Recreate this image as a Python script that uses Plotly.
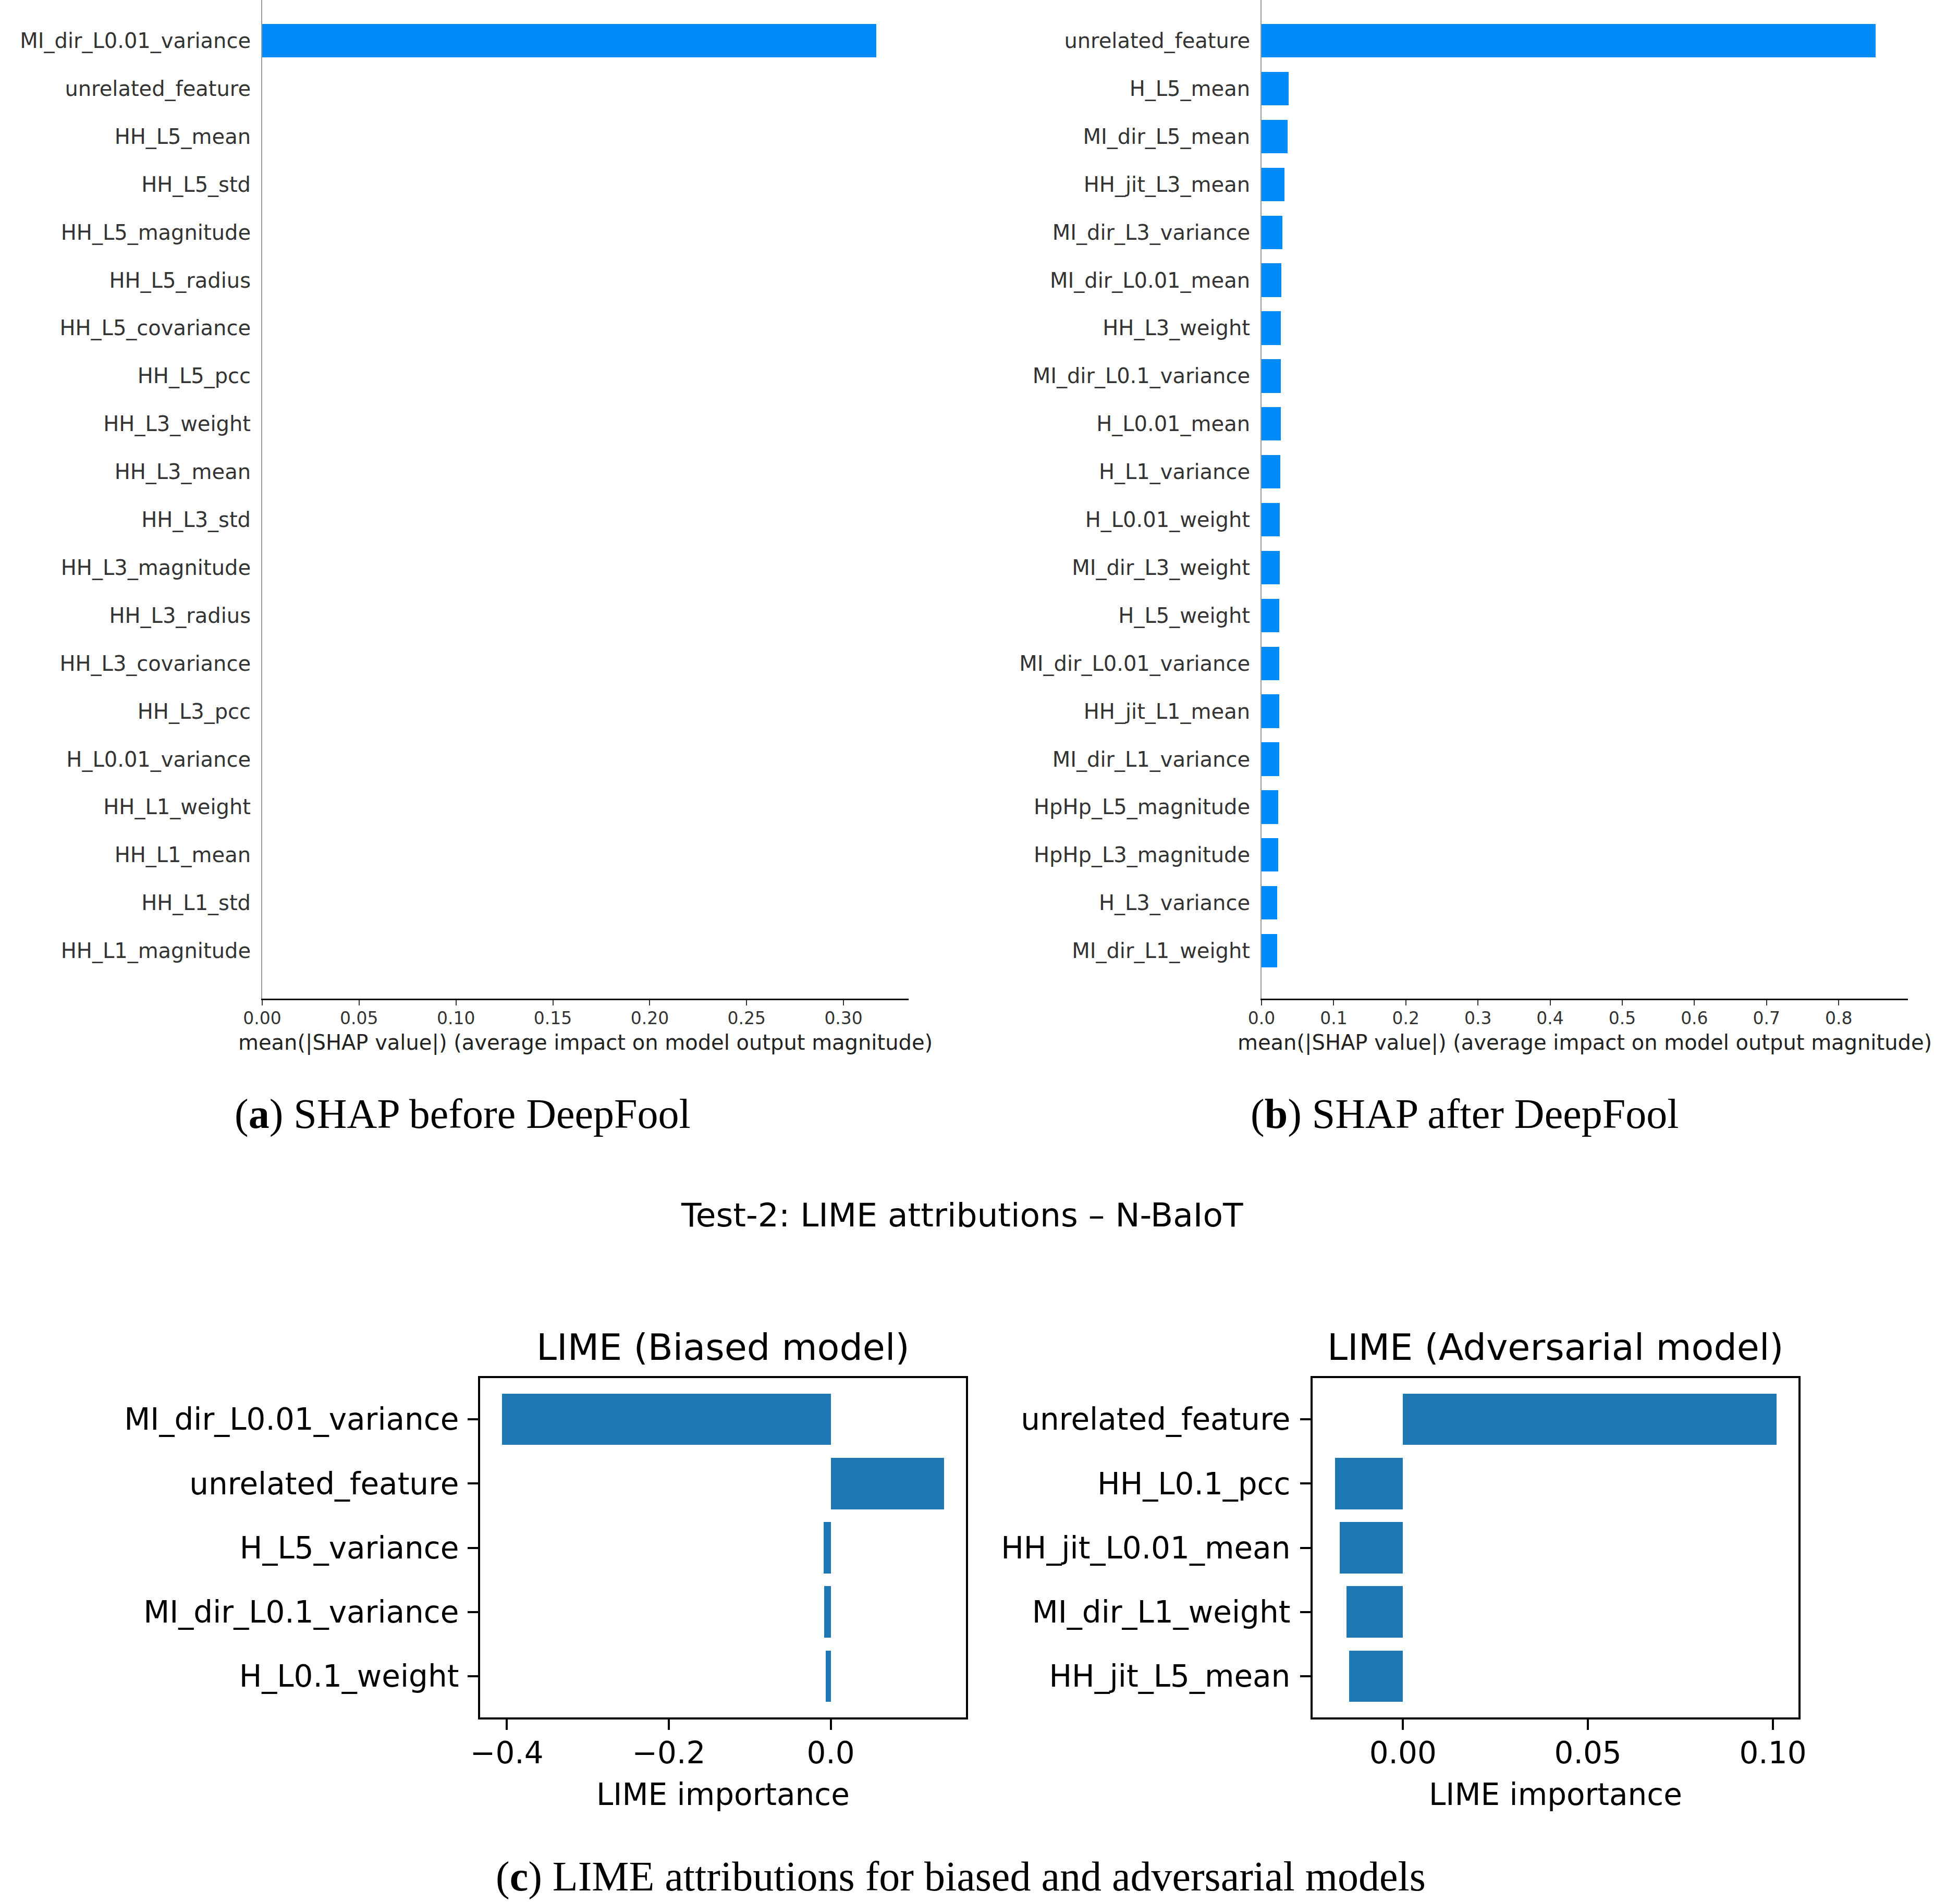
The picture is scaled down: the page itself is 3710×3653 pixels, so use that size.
import plotly.graph_objects as go

W, H = 3710, 3653

# ---------------- data ----------------
shap_before_features = [
    "MI_dir_L0.01_variance", "unrelated_feature", "HH_L5_mean", "HH_L5_std",
    "HH_L5_magnitude", "HH_L5_radius", "HH_L5_covariance", "HH_L5_pcc",
    "HH_L3_weight", "HH_L3_mean", "HH_L3_std", "HH_L3_magnitude",
    "HH_L3_radius", "HH_L3_covariance", "HH_L3_pcc", "H_L0.01_variance",
    "HH_L1_weight", "HH_L1_mean", "HH_L1_std", "HH_L1_magnitude",
]
shap_before_values = [
    0.317, 0.0, 0.0, 0.0, 0.0, 0.0, 0.0, 0.0, 0.0, 0.0,
    0.0, 0.0, 0.0, 0.0, 0.0, 0.0, 0.0, 0.0, 0.0, 0.0,
]

shap_after_features = [
    "unrelated_feature", "H_L5_mean", "MI_dir_L5_mean", "HH_jit_L3_mean",
    "MI_dir_L3_variance", "MI_dir_L0.01_mean", "HH_L3_weight", "MI_dir_L0.1_variance",
    "H_L0.01_mean", "H_L1_variance", "H_L0.01_weight", "MI_dir_L3_weight",
    "H_L5_weight", "MI_dir_L0.01_variance", "HH_jit_L1_mean", "MI_dir_L1_variance",
    "HpHp_L5_magnitude", "HpHp_L3_magnitude", "H_L3_variance", "MI_dir_L1_weight",
]
shap_after_values = [
    0.851, 0.0373, 0.0360, 0.0321, 0.0291, 0.0274, 0.0268, 0.0266, 0.0265, 0.0263,
    0.0252, 0.0250, 0.0249, 0.0248, 0.0247, 0.0246, 0.0234, 0.0232, 0.0219, 0.0217,
]

lime_biased_features = [
    "MI_dir_L0.01_variance", "unrelated_feature", "H_L5_variance",
    "MI_dir_L0.1_variance", "H_L0.1_weight",
]
lime_biased_values = [-0.406, 0.140, -0.009, -0.008, -0.0065]

lime_adv_features = [
    "unrelated_feature", "HH_L0.1_pcc", "HH_jit_L0.01_mean",
    "MI_dir_L1_weight", "HH_jit_L5_mean",
]
lime_adv_values = [0.101, -0.0184, -0.0171, -0.0153, -0.0145]

shap_ticks_before = [0.0, 0.05, 0.10, 0.15, 0.20, 0.25, 0.30]
shap_ticks_after = [0.0, 0.1, 0.2, 0.3, 0.4, 0.5, 0.6, 0.7, 0.8]
lime_ticks_biased = [-0.4, -0.2, 0.0]
lime_ticks_adv = [0.0, 0.05, 0.10]

SHAP_XLABEL = "mean(|SHAP value|) (average impact on model output magnitude)"

# ---------------- helpers ----------------
def fx(px):
    return px / W

def fy(py):
    return 1 - py / H

SANS = "DejaVu Sans"
SERIF = "Liberation Serif"

fig = go.Figure()

fig.add_trace(go.Bar(x=shap_before_values, y=shap_before_features, orientation="h",
                     marker=dict(color="#008bfb", line=dict(width=0)), width=0.7,
                     xaxis="x", yaxis="y", showlegend=False))
fig.add_trace(go.Bar(x=shap_after_values, y=shap_after_features, orientation="h",
                     marker=dict(color="#008bfb", line=dict(width=0)), width=0.7,
                     xaxis="x2", yaxis="y2", showlegend=False))
fig.add_trace(go.Bar(x=lime_biased_values, y=lime_biased_features, orientation="h",
                     marker=dict(color="#1f77b4", line=dict(width=0)), width=0.8,
                     xaxis="x3", yaxis="y3", showlegend=False))
fig.add_trace(go.Bar(x=lime_adv_values, y=lime_adv_features, orientation="h",
                     marker=dict(color="#1f77b4", line=dict(width=0)), width=0.8,
                     xaxis="x4", yaxis="y4", showlegend=False))

def shap_x(domain, rng, ticks, fmt, anchor):
    return dict(domain=domain, range=rng, anchor=anchor, tickvals=ticks, tickformat=fmt,
                ticks="outside", ticklen=10, tickwidth=2, tickcolor="#333333",
                showline=True, linecolor="#000000", linewidth=2.5,
                showgrid=False, zeroline=False, automargin=False, ticklabelstandoff=-3,
                tickfont=dict(family=SANS, size=33, color="#333333"))

def shap_y(feats, anchor):
    return dict(domain=[fy(1916), 1.0], anchor=anchor, type="category",
                categoryorder="array", categoryarray=list(reversed(feats)),
                range=[-1, 19.85], ticks="", showline=True, linecolor="#999999",
                linewidth=2, showgrid=False, zeroline=False, ticklabelstandoff=12,
                automargin=False,
                tickfont=dict(family=SANS, size=40, color="#333333"))

def lime_x(domain, rng, ticks, fmt, anchor):
    return dict(domain=domain, range=rng, anchor=anchor, tickvals=ticks, tickformat=fmt,
                ticks="outside", ticklen=20, tickwidth=4, tickcolor="#000000",
                showline=True, mirror=True, linecolor="#000000", linewidth=4,
                showgrid=False, zeroline=False, automargin=False, ticklabelstandoff=-6,
                tickfont=dict(family=SANS, size=58, color="#000000"))

def lime_y(feats, anchor, standoff):
    return dict(domain=[fy(3295), fy(2644)], anchor=anchor, type="category",
                categoryorder="array", categoryarray=list(reversed(feats)),
                range=[-0.64, 4.64], ticks="outside", ticklen=20, tickwidth=4,
                tickcolor="#000000", showline=True, mirror=True, linecolor="#000000",
                linewidth=4, showgrid=False, zeroline=False, automargin=False,
                ticklabelstandoff=standoff,
                tickfont=dict(family=SANS, size=58, color="#000000"))

annotations = []

def ann(text, x, y, size, family=SANS, color="#000000"):
    annotations.append(dict(text=text, x=fx(x), y=fy(y), xref="paper", yref="paper",
                            xanchor="center", yanchor="middle", showarrow=False,
                            font=dict(family=family, size=size, color=color)))

ann(SHAP_XLABEL, 1123, 2000, 40, color="#222222")
ann(SHAP_XLABEL, 3040, 2000, 40, color="#222222")
ann("(<b>a</b>) SHAP before DeepFool", 887, 2137, 80, family=SERIF)
ann("(<b>b</b>) SHAP after DeepFool", 2809, 2137, 80, family=SERIF)
ann("Test-2: LIME attributions – N-BaIoT", 1845, 2331, 63)
ann("LIME (Biased model)", 1387, 2585, 70)
ann("LIME (Adversarial model)", 2984, 2585, 70)
ann("LIME importance", 1387, 3443, 58)
ann("LIME importance", 2984, 3443, 58)
ann("(<b>c</b>) LIME attributions for biased and adversarial models", 1843, 3600, 80, family=SERIF)

fig.update_layout(
    width=W, height=H, margin=dict(l=0, r=0, t=0, b=0, autoexpand=False),
    paper_bgcolor="white", plot_bgcolor="white", showlegend=False, bargap=0,
    xaxis=shap_x([fx(503), fx(1743)], [0, 0.3336], shap_ticks_before, ".2f", "y"),
    yaxis=shap_y(shap_before_features, "x"),
    xaxis2=shap_x([fx(2420), fx(3660)], [0, 0.896], shap_ticks_after, ".1f", "y2"),
    yaxis2=shap_y(shap_after_features, "x2"),
    xaxis3=lime_x([fx(921), fx(1853)], [-0.433, 0.167], lime_ticks_biased, ".1f", "y3"),
    yaxis3=lime_y(lime_biased_features, "x3", 5),
    xaxis4=lime_x([fx(2518), fx(3450)], [-0.0244, 0.1069], lime_ticks_adv, ".2f", "y4"),
    yaxis4=lime_y(lime_adv_features, "x4", 7),
    annotations=annotations,
)

fig.write_html("out.html")
